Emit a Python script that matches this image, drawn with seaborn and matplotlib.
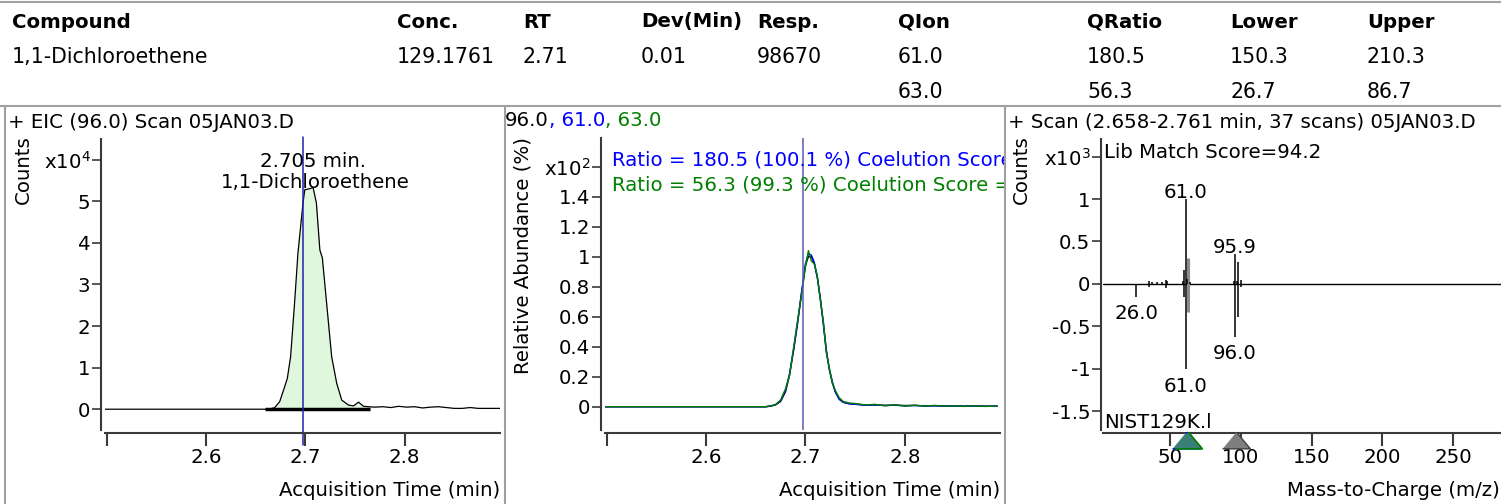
import numpy as np
import matplotlib
matplotlib.use('Agg')
import matplotlib.pyplot as plt
from matplotlib.transforms import Bbox, TransformedBbox
import seaborn as sns

# ---- data ----
table_cols = ['Compound', 'Conc.', 'RT', 'Dev(Min)', 'Resp.', 'QIon', 'QRatio', 'Lower', 'Upper']
table_row1 = ['1,1-Dichloroethene', '129.1761', '2.71', '0.01', '98670', '61.0', '180.5', '150.3', '210.3']
table_row2 = ['', '', '', '', '', '63.0', '56.3', '26.7', '86.7']

# EIC 96.0, counts in units of 1e4
eic_time = [2.498, 2.55, 2.60, 2.64, 2.660, 2.665, 2.669, 2.674, 2.679, 2.6817, 2.685, 2.689,
            2.6924, 2.6975, 2.6993, 2.7035, 2.7077, 2.711, 2.7145, 2.717, 2.7213, 2.7264,
            2.7315, 2.7365, 2.7433, 2.7485, 2.7534, 2.7585, 2.7636, 2.770, 2.778, 2.786,
            2.794, 2.802, 2.810, 2.818, 2.826, 2.834, 2.842, 2.850, 2.858, 2.866, 2.874,
            2.882, 2.890, 2.896]
eic_counts = [0, 0, 0, 0, 0.0, 0.01, 0.04, 0.18, 0.54, 0.74, 1.26, 2.55,
              3.75, 4.96, 5.28, 5.30, 5.33, 4.96, 3.83, 3.64, 2.55, 1.26,
              0.62, 0.22, 0.10, 0.08, 0.17, 0.07, 0.06, 0.05, 0.06, 0.04,
              0.07, 0.05, 0.06, 0.03, 0.05, 0.06, 0.04, 0.02, 0.02, 0.04, 0.02,
              0.02, 0.02, 0.02]
peak_start, peak_end = 2.659, 2.765
peak_rt = 2.698

# qualifier overlay, relative abundance x1e2
q_time = [2.498, 2.56, 2.62, 2.660, 2.665, 2.670, 2.675, 2.680, 2.684, 2.688, 2.692, 2.696,
          2.700, 2.703, 2.706, 2.709, 2.712, 2.715, 2.718, 2.721, 2.724, 2.727, 2.730,
          2.734, 2.738, 2.744, 2.752, 2.760, 2.770, 2.780, 2.790, 2.800, 2.810, 2.820,
          2.830, 2.840, 2.850, 2.860, 2.870, 2.880, 2.893]
q96 = [0, 0, 0, 0, 0.004, 0.012, 0.035, 0.10, 0.21, 0.37, 0.55, 0.75,
       0.94, 1.00, 1.00, 0.95, 0.86, 0.72, 0.56, 0.38, 0.25, 0.16, 0.10,
       0.05, 0.03, 0.02, 0.016, 0.012, 0.012, 0.009, 0.011, 0.008, 0.009, 0.006,
       0.007, 0.005, 0.006, 0.004, 0.005, 0.004, 0.004]
q61 = [0, 0, 0, 0, 0.005, 0.015, 0.04, 0.11, 0.22, 0.38, 0.56, 0.76,
       0.95, 1.02, 1.01, 0.96, 0.86, 0.72, 0.55, 0.37, 0.25, 0.17, 0.10,
       0.05, 0.03, 0.02, 0.015, 0.010, 0.012, 0.008, 0.010, 0.006, 0.008, 0.005,
       0.006, 0.004, 0.005, 0.003, 0.004, 0.003, 0.003]
q63 = [0, 0, 0, 0, 0.006, 0.014, 0.045, 0.12, 0.21, 0.39, 0.57, 0.74,
       0.93, 1.04, 0.97, 0.95, 0.87, 0.71, 0.57, 0.36, 0.26, 0.16, 0.11,
       0.06, 0.035, 0.025, 0.02, 0.012, 0.016, 0.006, 0.013, 0.004, 0.010, 0.004,
       0.009, 0.003, 0.007, 0.002, 0.006, 0.002, 0.004]

# spectrum, counts x1e3 (scan up, library down)
scan_mz = [35, 37, 41, 44, 47, 48, 59, 60, 61, 62, 64, 95, 96, 97, 98, 100]
scan_int = [0.03, 0.02, 0.02, 0.02, 0.05, 0.03, 0.03, 0.16, 1.0, 0.06, 0.02, 0.03, 0.35, 0.03, 0.26, 0.05]
lib_mz = [26, 35, 47, 60, 61, 96, 98, 100]
lib_int = [-0.15, -0.04, -0.05, -0.15, -1.0, -0.62, -0.39, -0.04]
iso_mz = [63]
iso_up, iso_down = [0.30], [-0.33]
peak_labels = [(61, 1.0, '61.0'), (96, 0.35, '95.9'), (26, -0.15, '26.0'), (96, -0.62, '96.0'), (61, -1.0, '61.0')]

W, H = 1501, 504
FS = 14.2
TFS = 14.8
GREY = '#a0a0a0'
SPINE = '#3a3a3a'

sns.set_theme(style='white')
plt.rcParams['font.family'] = ['DejaVu Sans']
plt.rcParams['mathtext.default'] = 'regular'
plt.rcParams['text.color'] = 'black'
plt.rcParams['xtick.color'] = 'black'
plt.rcParams['ytick.color'] = 'black'
plt.rcParams['axes.labelcolor'] = 'black'


def fx(px):
    return px / W


def fy(py):
    return 1 - py / H


def px_axes(fig, l, t, r, b):
    return fig.add_axes([fx(l), fy(b), (r - l) / W, (b - t) / H])


def style_axes(ax, out_left, out_bottom):
    for s in ['top', 'right']:
        ax.spines[s].set_visible(False)
    for s in ['left', 'bottom']:
        ax.spines[s].set_color(SPINE)
        ax.spines[s].set_linewidth(1.5)
    ax.spines['left'].set_position(('outward', out_left))
    ax.spines['bottom'].set_position(('outward', out_bottom))
    ax.set_facecolor('none')
    ax.tick_params(axis='y', direction='out', length=6.5, width=1.2, color=SPINE, pad=1, labelsize=FS, left=True)
    ax.tick_params(axis='x', direction='out', length=9.5, width=1.5, color=SPINE, pad=1, labelsize=FS, bottom=True)
    ax.set_xlabel('')
    ax.set_ylabel('')


fig = plt.figure(figsize=(W / 100, H / 100), dpi=100)
fig.patch.set_facecolor('white')

# table
col_x = [12, 397, 523, 641, 757, 898, 1087, 1230, 1367]
for x, h, v1, v2 in zip(col_x, table_cols, table_row1, table_row2):
    fig.text(fx(x), fy(22), h, fontsize=TFS - 0.6, fontweight='bold', va='center', ha='left')
    fig.text(fx(x), fy(57), v1, fontsize=TFS, va='center', ha='left')
    fig.text(fx(x), fy(92), v2, fontsize=TFS, va='center', ha='left')

# frame lines
fig.add_artist(plt.Line2D([0, 1], [fy(2), fy(2)], color=GREY, lw=1.5))
fig.add_artist(plt.Line2D([0, 1], [fy(106), fy(106)], color=GREY, lw=1.5))
for x in [5, 505, 1005]:
    fig.add_artist(plt.Line2D([fx(x), fx(x)], [fy(106), 0], color=GREY, lw=1.5))

# ---- panel 1: EIC ----
ax1 = px_axes(fig, 105, 139, 500, 430)
ax1.fill_between(eic_time, eic_counts, 0,
                 where=[(peak_start <= t <= peak_end) for t in eic_time],
                 color='#dff7dc', lw=0, interpolate=True)
sns.lineplot(x=eic_time, y=eic_counts, color='black', lw=0.9, estimator=None, sort=False, ax=ax1)
ax1.plot([peak_start, peak_end], [0, 0], color='black', lw=2.5, solid_capstyle='butt')
ax1.plot([peak_rt, peak_rt], [-0.85, 6.55], color='#2222aa', lw=1.1, clip_on=False)
ax1.set_xlim(2.498, 2.896)
ax1.set_ylim(-0.5, 6.5)
style_axes(ax1, 3, 2.2)
ax1.set_xticks([2.5, 2.6, 2.7, 2.8])
ax1.set_xticklabels(['', '2.6', '2.7', '2.8'])
ax1.set_yticks([0, 1, 2, 3, 4, 5, 6])
ax1.set_yticklabels(['0', '1', '2', '3', '4', '5', 'x10$^4$'])
ax1.text(2.7075, 5.95, '2.705 min.', fontsize=FS, ha='center', va='center')
ax1.text(2.7095, 5.45, '1,1-Dichloroethene', fontsize=FS, ha='center', va='center')
fig.text(fx(8), fy(123), '+ EIC (96.0) Scan 05JAN03.D', fontsize=FS, va='center', ha='left')
fig.text(fx(23), fy(170), 'Counts', fontsize=FS, rotation=90, va='center', ha='center')
fig.text(fx(500), fy(490), 'Acquisition Time (min)', fontsize=FS, va='center', ha='right')

# ---- panel 2: qualifier overlay ----
ax2 = px_axes(fig, 605, 138, 1000, 430)
sns.lineplot(x=q_time, y=q96, color='black', lw=1.0, estimator=None, sort=False, ax=ax2)
sns.lineplot(x=q_time, y=q61, color='#0000ff', lw=1.0, estimator=None, sort=False, ax=ax2)
sns.lineplot(x=q_time, y=q63, color='#008000', lw=1.0, estimator=None, sort=False, ax=ax2)
ax2.axvline(peak_rt, color='#5a5ab8', lw=1.1)
ax2.set_xlim(2.4983, 2.8958)
ax2.set_ylim(-0.155, 1.79)
style_axes(ax2, 3, 2.2)
ax2.set_xticks([2.5, 2.6, 2.7, 2.8])
ax2.set_xticklabels(['', '2.6', '2.7', '2.8'])
ax2.set_yticks([0, 0.2, 0.4, 0.6, 0.8, 1.0, 1.2, 1.4, 1.6])
ax2.set_yticklabels(['0', '0.2', '0.4', '0.6', '0.8', '1', '1.2', '1.4', 'x10$^2$'])
ratio_clip = TransformedBbox(Bbox([[fx(605), fy(430)], [fx(1003.5), fy(138)]]), fig.transFigure)
r1 = ax2.text((612 - 605) / 395, 1 - (160 - 138) / 292, 'Ratio = 180.5 (100.1 %) Coelution Score',
              transform=ax2.transAxes, color='#0000ff', fontsize=FS, va='center', ha='left')
r2 = ax2.text((612 - 605) / 395, 1 - (185 - 138) / 292, 'Ratio = 56.3 (99.3 %) Coelution Score =',
              transform=ax2.transAxes, color='#008000', fontsize=FS, va='center', ha='left')
for r in (r1, r2):
    r.set_clip_box(ratio_clip)
    r.set_clip_on(True)
t0 = fig.text(fx(505), fy(121), '96.0', fontsize=FS, va='center', ha='left', color='black')
t1 = ax2.annotate(', 61.0', xy=(1, 0), xycoords=t0, va='bottom', ha='left', fontsize=FS,
                  color='#0000ff', annotation_clip=False)
ax2.annotate(', 63.0', xy=(1, 0), xycoords=t1, va='bottom', ha='left', fontsize=FS,
             color='#008000', annotation_clip=False)
fig.text(fx(523), fy(256), 'Relative Abundance (%)', fontsize=FS, rotation=90, va='center', ha='center')
fig.text(fx(1000), fy(490), 'Acquisition Time (min)', fontsize=FS, va='center', ha='right')

# ---- panel 3: spectrum vs library ----
ax3 = px_axes(fig, 1103, 139, 1501, 430)
ax3.axhline(0, color='black', lw=1.0)
ax3.vlines(iso_mz, iso_down, iso_up, colors='#8a8a8a', lw=2.2)
ax3.vlines(scan_mz, 0, scan_int, colors='black', lw=1.1)
ax3.vlines(lib_mz, lib_int, 0, colors='black', lw=1.1)
for mz, y, lab in peak_labels:
    if y > 0:
        ax3.annotate(lab, (mz, y), xytext=(0, -2), textcoords='offset points',
                     ha='center', va='bottom', fontsize=FS)
    else:
        ax3.annotate(lab, (mz, y), xytext=(0, -5.5), textcoords='offset points',
                     ha='center', va='top', fontsize=FS)
ax3.set_xlim(2.65, 283.9)
ax3.set_ylim(-1.718, 1.706)
style_axes(ax3, 1.5, 2.2)
ax3.set_xticks([50, 100, 150, 200, 250])
ax3.set_xticklabels(['50', '100', '150', '200', '250'])
ax3.set_yticks([-1.5, -1, -0.5, 0, 0.5, 1, 1.5])
ax3.set_yticklabels(['-1.5', '-1', '-0.5', '0', '0.5', '1', 'x10$^3$'])
tri = [(-1, -0.6), (1, -0.6), (0, 0.6)]
tr = ax3.get_xaxis_transform()
ax3.scatter([61], [-0.035], marker=tri, s=400, facecolor='#3a7f78', edgecolor='#0000ff', lw=1.2,
            transform=tr, clip_on=False, zorder=5)
ax3.scatter([63], [-0.035], marker=tri, s=400, facecolor='#3a7f78', edgecolor='#008000', lw=1.2,
            transform=tr, clip_on=False, zorder=6)
ax3.scatter([96.8], [-0.035], marker=tri, s=400, facecolor='#7f7f7f', edgecolor='#404040', lw=1.0,
            transform=tr, clip_on=False, zorder=6)
ax3.text(0.003, 1 - (153 - 139) / 291, 'Lib Match Score=94.2', transform=ax3.transAxes,
         fontsize=FS, va='center', ha='left')
ax3.text(0.003, 1 - (422 - 139) / 291, 'NIST129K.l', transform=ax3.transAxes,
         fontsize=FS, va='center', ha='left')
fig.text(fx(1008), fy(123), '+ Scan (2.658-2.761 min, 37 scans) 05JAN03.D', fontsize=FS, va='center', ha='left')
fig.text(fx(1021), fy(170), 'Counts', fontsize=FS, rotation=90, va='center', ha='center')
fig.text(fx(1500), fy(490), 'Mass-to-Charge (m/z)', fontsize=FS, va='center', ha='right')

plt.savefig('out.png', dpi=100)
